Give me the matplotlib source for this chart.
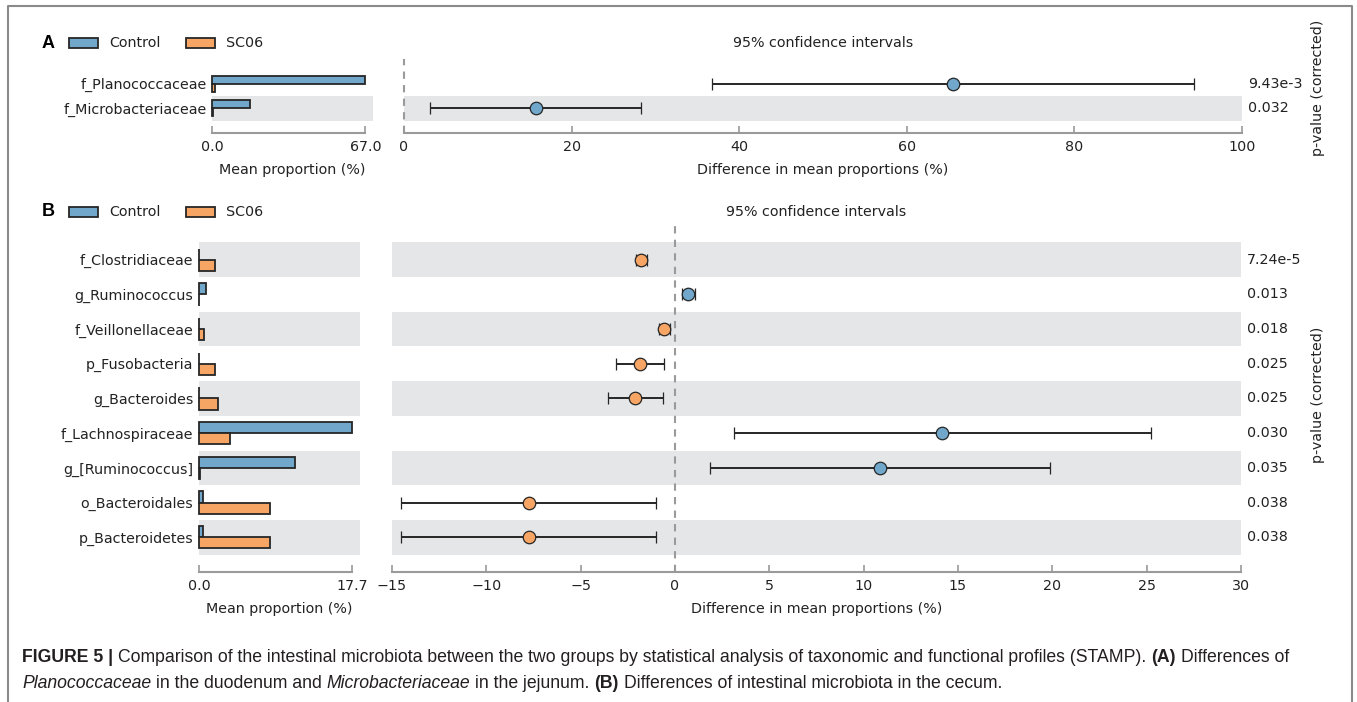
import matplotlib
matplotlib.use('Agg')
import matplotlib.pyplot as plt
from matplotlib import transforms
from matplotlib.patches import Rectangle
from matplotlib.lines import Line2D

W, H = 1357, 702

# Panel A: duodenum / jejunum
a_taxa = ['f_Planococcaceae', 'f_Microbacteriaceae']
a_control = [67.0, 16.4]
a_sc06 = [1.4, 0.3]
a_diff = [65.5, 15.8]
a_ci_low = [36.8, 3.1]
a_ci_high = [94.3, 28.3]
a_pvals = ['9.43e-3', '0.032']
a_ticks = [0, 20, 40, 60, 80, 100]

# Panel B: cecum
b_taxa = ['f_Clostridiaceae', 'g_Ruminococcus', 'f_Veillonellaceae', 'p_Fusobacteria',
          'g_Bacteroides', 'f_Lachnospiraceae', 'g_[Ruminococcus]', 'o_Bacteroidales',
          'p_Bacteroidetes']
b_control = [0.05, 0.8, 0.05, 0.05, 0.05, 17.7, 11.1, 0.42, 0.5]
b_sc06 = [1.9, 0.05, 0.6, 1.85, 2.15, 3.6, 0.1, 8.2, 8.2]
b_diff = [-1.8, 0.67, -0.57, -1.84, -2.1, 14.15, 10.87, -7.76, -7.76]
b_ci_low = [-2.05, 0.37, -0.87, -3.13, -3.55, 3.11, 1.87, -14.5, -14.5]
b_ci_high = [-1.5, 1.04, -0.25, -0.57, -0.64, 25.25, 19.9, -1.03, -1.0]
b_pvals = ['7.24e-5', '0.013', '0.018', '0.025', '0.025', '0.030', '0.035', '0.038', '0.038']
b_ticks = [-15, -10, -5, 0, 5, 10, 15, 20, 25, 30]

BLUE = '#70a7cb'
ORANGE = '#f6a565'
EDGE = '#262626'
BAND = '#e5e6e8'
SPINE = '#9a9a9a'
TXT = '#222222'
CAP = '#231f20'
FS = 10.3

fig = plt.figure(figsize=(W / 100, H / 100), dpi=100)


def box(x0, y0, x1, y1):
    return [x0 / W, 1 - y1 / H, (x1 - x0) / W, (y1 - y0) / H]


def style_axis(ax):
    for s in ['left', 'top', 'right']:
        ax.spines[s].set_visible(False)
    ax.spines['bottom'].set_color(SPINE)
    ax.spines['bottom'].set_linewidth(1.5)
    ax.tick_params(axis='x', direction='in', length=5, width=1.2, color=SPINE,
                   pad=5, labelsize=FS, labelcolor=TXT)
    ax.tick_params(axis='y', length=0, pad=4, labelsize=FS, labelcolor=TXT)


def bands(ax, n):
    for y in range(n):
        if y % 2 == 0:
            ax.axhspan(y - 0.5, y + 0.5, color=BAND, lw=0, zorder=0)


def bar_panel(ax, taxa, ctrl, sc):
    n = len(taxa)
    ys = [n - 1 - k for k in range(n)]
    bands(ax, n)
    ax.barh([y + 0.16 for y in ys], ctrl, height=0.32, color=BLUE, edgecolor=EDGE,
            lw=1.3, zorder=2, clip_on=False)
    ax.barh([y - 0.16 for y in ys], sc, height=0.32, color=ORANGE, edgecolor=EDGE,
            lw=1.3, zorder=2, clip_on=False)
    top = max(max(ctrl), max(sc))
    ax.set_xlim(0, top * 1.05)
    ax.set_ylim(-1, n)
    ax.set_xticks([0, top])
    ax.set_xticklabels(['%.1f' % 0, '%.1f' % top])
    style_axis(ax)
    ax.spines['bottom'].set_bounds(0, top)
    ax.set_yticks(ys)
    ax.set_yticklabels(taxa)
    ax.set_xlabel('Mean proportion (%)', fontsize=FS, color=TXT, labelpad=6.5)


def ci_panel(ax, diff, lo, hi, pvals, ticks):
    n = len(diff)
    ys = [n - 1 - k for k in range(n)]
    bands(ax, n)
    ax.axvline(0, color=SPINE, ls=(0, (3.5, 3)), lw=1.5, zorder=1, clip_on=False)
    for y, d, l, h in zip(ys, diff, lo, hi):
        col = BLUE if d > 0 else ORANGE
        ax.errorbar(d, y, xerr=[[d - l], [h - d]], fmt='o', ms=9, mfc=col, mec=EDGE,
                    mew=0.9, ecolor=EDGE, elinewidth=1.4, capsize=4, capthick=1.4,
                    zorder=3)
    ax.set_xlim(ticks[0], ticks[-1])
    ax.set_ylim(-1, n)
    ax.set_xticks(ticks)
    ax.set_yticks([])
    style_axis(ax)
    ax.spines['bottom'].set_bounds(ticks[0], ticks[-1])
    ax.set_xlabel('Difference in mean proportions (%)', fontsize=FS, color=TXT, labelpad=6.5)
    trans = transforms.blended_transform_factory(ax.transAxes, ax.transData)
    for y, p in zip(ys, pvals):
        ax.text(1.007, y, p, transform=trans, ha='left', va='center', fontsize=FS, color=TXT)


# panel A
ax_a1 = fig.add_axes(box(212, 59, 373, 133))
bar_panel(ax_a1, a_taxa, a_control, a_sc06)
ax_a2 = fig.add_axes(box(404, 59, 1242, 133))
ci_panel(ax_a2, a_diff, a_ci_low, a_ci_high, a_pvals, a_ticks)

# panel B
ax_b1 = fig.add_axes(box(199, 225, 360, 572))
bar_panel(ax_b1, b_taxa, b_control, b_sc06)
ax_b2 = fig.add_axes(box(392, 225, 1241, 572))
ci_panel(ax_b2, b_diff, b_ci_low, b_ci_high, b_pvals, b_ticks)

# headers, legends, side labels
for letter, ly, tx in [('A', 43, 823), ('B', 212, 816)]:
    fig.text(48 / W, 1 - ly / H, letter, fontsize=13, weight='bold', family='Liberation Sans',
             ha='center', va='center', color='black')
    fig.text(tx / W, 1 - ly / H, '95% confidence intervals', fontsize=FS, color=TXT,
             ha='center', va='center')
    for x0, col, lab in [(69, BLUE, 'Control'), (186, ORANGE, 'SC06')]:
        fig.add_artist(Rectangle((x0 / W, 1 - (ly + 5) / H), 29 / W, 10 / H,
                                 transform=fig.transFigure, fc=col, ec=EDGE, lw=1.3))
        fig.text((x0 + 40) / W, 1 - ly / H, lab, fontsize=FS, color=TXT,
                 ha='left', va='center')

for cy in [88, 395]:
    fig.text(1318 / W, 1 - cy / H, 'p-value (corrected)', rotation=90, fontsize=FS,
             color=TXT, ha='center', va='center')

# frame around the figure
frame = dict(color='#8a8a8a', lw=1.5, transform=fig.transFigure)
fig.add_artist(Line2D([8 / W, 8 / W, 1352 / W, 1352 / W], [0, 1 - 6 / H, 1 - 6 / H, 0], **frame))

# caption with mixed styles
cap_size = 12.7
cap_lines = [
    (657, [('FIGURE 5 |', 'bold', 'normal'),
           ('Comparison of the intestinal microbiota between the two groups by statistical '
            'analysis of taxonomic and functional profiles (STAMP).', 'normal', 'normal'),
           ('(A)', 'bold', 'normal'),
           ('Differences of', 'normal', 'normal')]),
    (683, [('Planococcaceae', 'normal', 'italic'),
           ('in the duodenum and', 'normal', 'normal'),
           ('Microbacteriaceae', 'normal', 'italic'),
           ('in the jejunum.', 'normal', 'normal'),
           ('(B)', 'bold', 'normal'),
           ('Differences of intestinal microbiota in the cecum.', 'normal', 'normal')]),
]
renderer = fig.canvas.get_renderer()
space = 0.278 * cap_size * 100 / 72
for cy, pieces in cap_lines:
    x = 22
    for txt, wt, st in pieces:
        t = fig.text(x / W, 1 - cy / H, txt, fontsize=cap_size, family='Liberation Sans',
                     weight=wt, style=st, ha='left', va='center', color=CAP)
        x += t.get_window_extent(renderer=renderer).width + space

fig.savefig('out.png', dpi=100)
